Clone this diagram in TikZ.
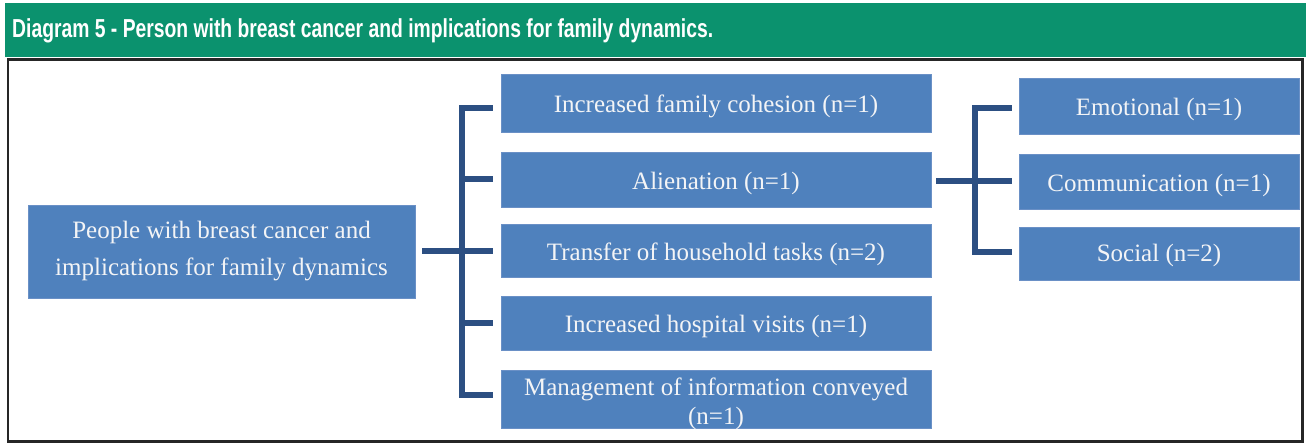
\documentclass[tikz,border=0pt]{standalone}
\usepackage{fontspec}
\usepackage{graphicx}
\setmainfont{Liberation Serif}
\newfontfamily\headfont{Liberation Sans}
\usetikzlibrary{calc}
\definecolor{headgreen}{HTML}{0B926E}
\definecolor{boxblue}{HTML}{4F81BD}
\definecolor{boxedge}{HTML}{6A90C6}
\definecolor{linkblue}{HTML}{2C4F82}
\definecolor{boxtext}{HTML}{F3F4F6}
% centred lines of box text, moved down by #1 without changing the box extent
\newcommand{\boxlines}[2]{\raisebox{-#1}[\height][\depth]{\begin{tabular}{@{}c@{}}#2\end{tabular}}}
\begin{document}
\begin{tikzpicture}[x=1pt,y=-1pt,
  box/.style={rectangle, fill=boxblue, draw=boxedge, line width=0.8pt,
    text=boxtext, inner sep=0pt,
    font=\fontsize{25}{29}\selectfont},
  midbox/.style={box, minimum width=430pt, minimum height=55pt},
  subbox/.style={box, minimum width=280pt, minimum height=55pt},
  link/.style={draw=linkblue, line width=6pt, line join=miter}]
\useasboundingbox (0,0) rectangle (1306,443);
\fill[white] (0,0) rectangle (1306,443);

% title band
\fill[headgreen] (5,3) rectangle (1306,57);
\node[anchor=west, inner sep=0pt, text=white] (title) at (12,30.5)
  {\resizebox{701pt}{\height}{\headfont\bfseries\fontsize{26}{30}\selectfont
   Diagram 5 - Person with breast cancer and implications for family dynamics.}};
\draw[line width=2.5pt, black!85] (8,59.5) rectangle (1302.5,441.5);

% boxes
\node[box, minimum width=387pt, minimum height=93pt,
  font=\fontsize{25}{37}\selectfont] (root) at (221.5,251.5)
  {\boxlines{-2pt}{People with breast cancer and\\implications for family dynamics}};
\node[midbox, minimum height=58pt] (b1) at (716,103) {\boxlines{3.5pt}{Increased family cohesion (n=1)}};
\node[midbox] (b2) at (716,179.5) {\boxlines{4pt}{Alienation (n=1)}};
\node[midbox, minimum height=53pt] (b3) at (716,250.5) {\boxlines{4pt}{Transfer of household tasks (n=2)}};
\node[midbox, minimum height=54pt] (b4) at (716,323) {\boxlines{3.5pt}{Increased hospital visits (n=1)}};
\node[midbox, minimum height=56pt] (b5) at (716,399) {\boxlines{5pt}{Management of information conveyed\\(n=1)}};

\node[subbox, minimum height=56pt] (e1) at (1159,106) {\boxlines{3.5pt}{Emotional (n=1)}};
\node[subbox] (e2) at (1159,181.5) {\boxlines{4.5pt}{Communication (n=1)}};
\node[subbox, minimum height=53pt] (e3) at (1159,253.5) {\boxlines{2.5pt}{Social (n=2)}};

% left bracket
\coordinate (lt) at (462,0);
\coordinate (h1) at ($(b1.west)+(-8,5)$);
\coordinate (h5) at ($(b5.west)+(-8,-4)$);
\draw[link] (h1) -- (h1 -| lt) -- (h5 -| lt) -- (h5);
\draw[link, shorten >=8pt] (lt |- b2.west) -- (b2.west);
\draw[link, shorten >=8pt] (lt |- b4.west) -- (b4.west);
\draw[link, shorten <=7pt, shorten >=8pt] (root.east) -- (root.east -| b3.west);

% right bracket
\coordinate (rt) at (975,0);
\coordinate (g1) at ($(e1.west)+(-7,2)$);
\coordinate (g3) at ($(e3.west)+(-7,-1.5)$);
\draw[link] (g1) -- (g1 -| rt) -- (g3 -| rt) -- (g3);
\draw[link, shorten <=5pt, shorten >=7pt] (e2.west -| b2.east) -- (e2.west);
\end{tikzpicture}
\end{document}
